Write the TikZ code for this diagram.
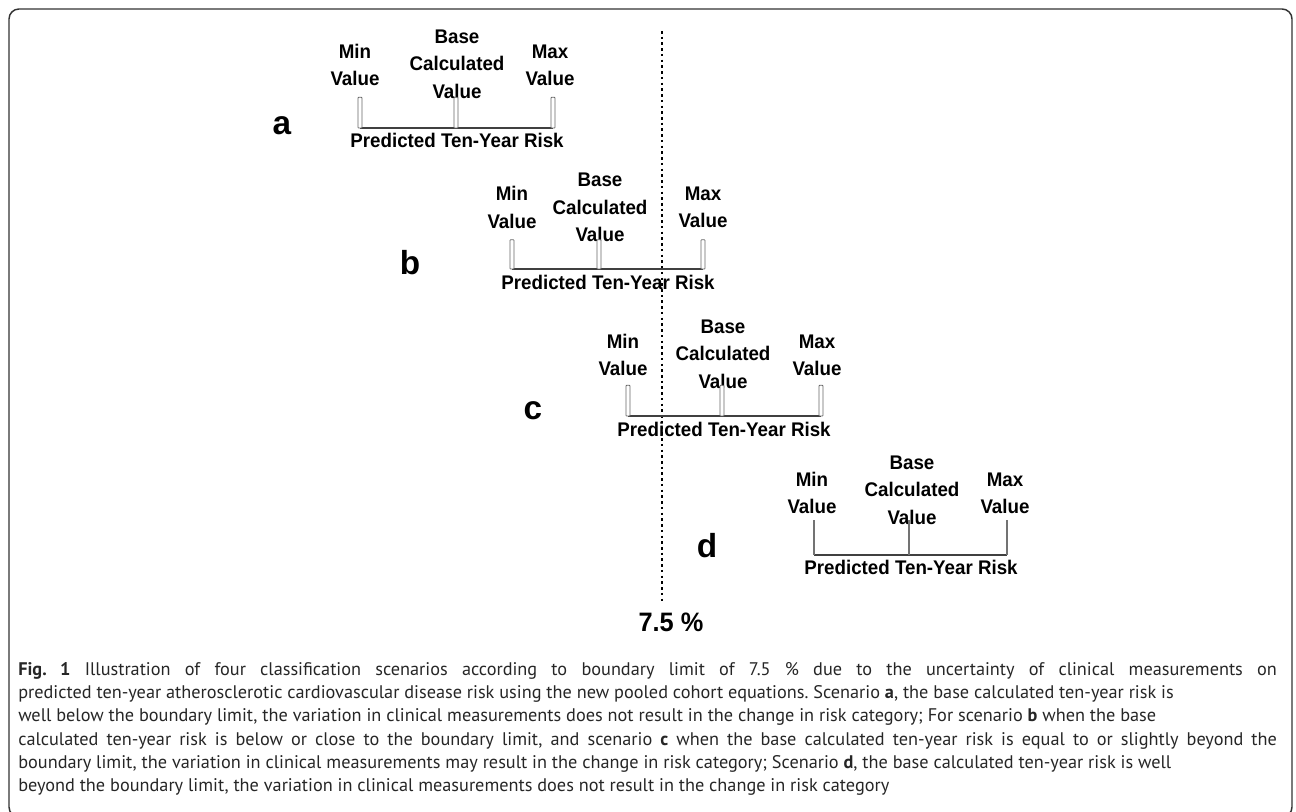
\documentclass[tikz,border=0pt]{standalone}
\usepackage{fontspec}
\setmainfont{Liberation Sans}
\newfontfamily\labfont[FakeStretch=0.95]{Liberation Sans}
\newfontfamily\capfont{PT Sans}
\begin{document}
\begin{tikzpicture}[x=0.75pt,y=-0.75pt,
  lab/.style={font=\labfont\fontsize{14.8}{20.5}\selectfont\bfseries, align=center, inner sep=0pt},
  axislab/.style={font=\labfont\fontsize{14.8}{20.5}\selectfont\bfseries, anchor=base, inner sep=0pt},
  letter/.style={font=\fontsize{25}{30}\selectfont\bfseries, anchor=base, inner sep=0pt},
  tickbar/.style={draw=black!60, line width=0.6pt, fill=white, rounded corners=0.5pt},
  thintick/.style={draw=black!55, line width=0.8pt},
  axisline/.style={draw=black!75, line width=1.4pt},
  boundary/.style={draw=black, line width=1.9pt, dash pattern=on 1.9pt off 2.4pt},
  frame/.style={draw=black!80, line width=1.1pt, rounded corners=7.5pt}
]
\clip (0,0) rectangle (1296,812);
\useasboundingbox (0,0) rectangle (1296,812);
\draw[frame] (9,9) rectangle (1292,817);

% boundary line
\coordinate (btop) at (662,31);
\coordinate (bbot) at (662,603);
\draw[boundary] (btop) -- (bbot);
\node[font=\labfont\fontsize{20}{22}\selectfont\bfseries, anchor=base, inner sep=0pt] (pct) at (671,631) {7.5 \%};

% ---------- scenario a
\node[letter] (la) at (282,135) {a};
\node[lab] (mina) at (355,65) {Min\\Value};
\node[lab] (basea) at (457,64) {Base\\Calculated\\Value};
\node[lab] (maxa) at (550,65) {Max\\Value};
\coordinate (a1) at (360,128); \coordinate (a2) at (456,128); \coordinate (a3) at (553,128);
\draw[axisline] (a1) -- (a3);
\foreach \p in {a1,a2,a3} \draw[tickbar] ([xshift=-1.5]\p) rectangle ([xshift=1.5,yshift=23]\p);
\node[axislab] (pa) at (457,148) {Predicted Ten-Year Risk};

% ---------- scenario b
\node[letter] (lb) at (410,275) {b};
\node[lab] (minb) at (512,207.5) {Min\\Value};
\node[lab] (baseb) at (600,207.5) {Base\\Calculated\\Value};
\node[lab] (maxb) at (703,207.5) {Max\\Value};
\coordinate (b1) at (512,269); \coordinate (b2) at (599,269); \coordinate (b3) at (703,269);
\draw[axisline] (b1) -- (b3);
\foreach \p in {b1,b2,b3} \draw[tickbar] ([xshift=-1.5]\p) rectangle ([xshift=1.5,yshift=22]\p);
\node[axislab] (pb) at (608,290) {Predicted Ten-Year Risk};

% ---------- scenario c
\node[letter] (lc) at (533,420) {c};
\node[lab] (minc) at (623,355) {Min\\Value};
\node[lab] (basec) at (723,354) {Base\\Calculated\\Value};
\node[lab] (maxc) at (817,355) {Max\\Value};
\coordinate (c1) at (628,416); \coordinate (c2) at (722,416); \coordinate (c3) at (821,416);
\draw[axisline] (c1) -- (c3);
\foreach \p in {c1,c2,c3} \draw[tickbar] ([xshift=-1.5]\p) rectangle ([xshift=1.5,yshift=23]\p);
\node[axislab] (pc) at (724,437) {Predicted Ten-Year Risk};

% ---------- scenario d
\node[letter] (ld) at (707,558) {d};
\node[lab] (mind) at (812,493) {Min\\Value};
\node[lab] (based) at (912,490) {Base\\Calculated\\Value};
\node[lab] (maxd) at (1005,493) {Max\\Value};
\coordinate (d1) at (814,555); \coordinate (d2) at (909,555); \coordinate (d3) at (1007,555);
\draw[axisline] (d1) -- (d3);
\foreach \p in {d1,d2,d3} \draw[thintick] (\p) -- ([yshift=26]\p);
\node[axislab] (pd) at (911,575) {Predicted Ten-Year Risk};

% ---------- caption
\node[anchor=north west, text width=944pt, align=justify, inner sep=0pt, text=black!85,
      font=\capfont\fontsize{13.7}{17.5}\selectfont\frenchspacing] (cap) at (18,662)
{\textbf{Fig.~1} Illustration of four classification scenarios according to boundary limit of 7.5~\% due to the uncertainty of clinical measurements on\linebreak
predicted ten-year atherosclerotic cardiovascular disease risk using the new pooled cohort equations. Scenario \textbf{a}, the base calculated ten-year risk is\newline
well below the boundary limit, the variation in clinical measurements does not result in the change in risk category; For scenario \textbf{b} when the base\newline
calculated ten-year risk is below or close to the boundary limit, and scenario \textbf{c} when the base calculated ten-year risk is equal to or slightly beyond the\linebreak
boundary limit, the variation in clinical measurements may result in the change in risk category; Scenario \textbf{d}, the base calculated ten-year risk is well\newline
beyond the boundary limit, the variation in clinical measurements does not result in the change in risk category};
\end{tikzpicture}
\end{document}
